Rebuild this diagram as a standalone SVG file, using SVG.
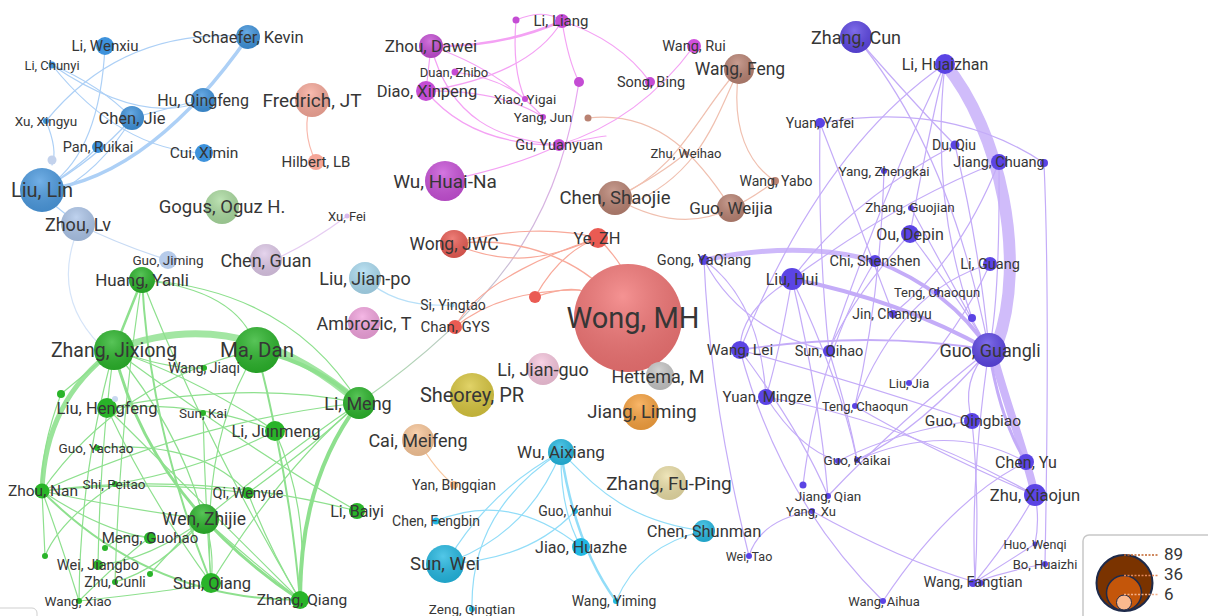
<svg xmlns="http://www.w3.org/2000/svg" width="1208" height="616" viewBox="0 0 1208 616">
<defs>
<radialGradient id="sh" cx="0.45" cy="0.3" r="0.75"><stop offset="0" stop-color="#fff" stop-opacity="0.22"/><stop offset="1" stop-color="#000" stop-opacity="0.12"/></radialGradient>
<linearGradient id="gml" gradientUnits="userSpaceOnUse" x1="579" y1="82" x2="359" y2="403"><stop offset="0" stop-color="#e9a2f2"/><stop offset="0.6" stop-color="#c4c4d0"/><stop offset="1" stop-color="#a6dca6"/></linearGradient>
<style>
.e path{fill:none;stroke-linecap:round;stroke-width:1.2}
.eb path{stroke:#add0f6}
.er path{stroke:#f8a99a}
.em path{stroke:#f4a2f4}
.ebr path{stroke:#f0c0b0}
.eg path{stroke:#8ee08e}
.ec path{stroke:#92ddf8}
.ev path{stroke:#c4acf8}
.s{fill:url(#sh)}
text{font-family:Roboto,"Liberation Sans",sans-serif;fill:#363636;text-anchor:middle;dominant-baseline:central}
.bl{fill:#3d92dc}.mg{fill:#c44cd4}.br{fill:#b98272}.gr{fill:#29b429}.cy{fill:#22b8e2}.vi{fill:#5b44e4}.rd{fill:#ea5b53}
</style>
</defs>
<rect width="1208" height="616" fill="#fff"/>
<g id="connectors" class="e">
<g class="eb">
<path d="M42,190 C120,182 190,120 248,37" style="stroke-width:3.5"/>
<path d="M105,46 Q100,150 50,185"/>
<path d="M46,121 Q120,30 240,36"/>
<path d="M52,65 Q100,85 132,118"/>
<path d="M52,65 Q120,150 204,153"/>
<path d="M52,65 Q140,125 200,102"/>
<path d="M132,118 Q170,108 200,100"/>
<path d="M132,118 Q95,160 42,190"/>
<path d="M132,118 Q100,172 52,195"/>
<path d="M98,147 Q75,170 45,188"/>
<path d="M46,121 Q58,150 52,165"/>
<path d="M78,224 L48,200"/>
<path d="M78,224 Q120,245 168,260" style="stroke:#c8dbf4"/>
<path d="M74,240 Q55,300 100,345" style="stroke:#d5e4f8"/>
</g>
<path d="M312,100 Q300,130 316,162" style="stroke:#f8b8ac"/>
<path d="M347,216 Q315,240 282,256" style="stroke:#e6cdf2"/>
<path d="M365,278 Q395,308 452,305" style="stroke:#b8e0f8"/>
<path d="M418,440 Q435,470 454,485" style="stroke:#f8c8a0"/>
<path d="M579,82 C560,200 520,290 359,403" style="stroke:url(#gml)"/>
<g class="er">
<path d="M454,244 C520,235 580,260 615,300" style="stroke-width:1.5"/>
<path d="M454,244 C520,272 560,252 598,238"/>
<path d="M454,244 C505,228 560,228 598,238"/>
<path d="M598,238 C560,250 480,280 455,327"/>
<path d="M598,238 Q560,252 535,297"/>
<path d="M535,297 Q570,285 585,292"/>
<path d="M455,327 Q500,290 580,290"/>
<path d="M598,238 Q630,270 634,300"/>
</g>
<g class="ebr">
<path d="M739,69 C700,110 680,170 615,198"/>
<path d="M739,69 C715,120 700,175 628,205"/>
<path d="M739,69 C730,130 750,165 775,181"/>
<path d="M775,181 Q750,200 731,208"/>
<path d="M615,198 Q680,235 731,208"/>
<path d="M588,118 C660,110 700,160 731,208"/>
<path d="M615,198 Q660,175 686,153"/>
</g>
<g class="em">
<path d="M431,46 Q500,48 562,21" style="stroke-width:2.5"/>
<path d="M431,46 L426,91"/>
<path d="M426,91 Q530,75 562,21"/>
<path d="M431,46 C450,120 500,140 559,145"/>
<path d="M426,91 Q470,145 559,145"/>
<path d="M431,46 Q500,70 543,117"/>
<path d="M426,91 Q500,90 543,117"/>
<path d="M455,72 Q500,78 525,99"/>
<path d="M516,20 Q545,8 562,21"/>
<path d="M516,20 Q512,70 525,99"/>
<path d="M562,21 Q568,60 579,82"/>
<path d="M562,21 Q620,40 650,82"/>
<path d="M559,145 Q640,120 694,46"/>
<path d="M445,181 Q520,165 559,145"/>
<path d="M559,145 Q590,138 606,136"/>
</g>
<g class="ec">
<path d="M561,452 Q490,490 448,560"/>
<path d="M561,452 Q530,530 455,560"/>
<path d="M561,452 Q560,510 581,547"/>
<path d="M561,452 Q575,545 616,601" style="stroke-width:2.5"/>
<path d="M561,452 C590,480 620,520 704,531"/>
<path d="M436,521 Q510,490 581,547"/>
<path d="M445,564 Q530,560 575,511"/>
<path d="M472,609 Q470,510 561,452"/>
<path d="M704,531 Q640,545 616,601"/>
</g>
<g class="eg">
<path d="M114,350 Q240,300 359,403" style="stroke-width:7;stroke:#a2e6a2"/>
<path d="M257,350 Q320,365 359,403" style="stroke-width:4"/>
<path d="M114,350 Q45,400 42,491" style="stroke-width:5;stroke:#9ae49a"/>
<path d="M359,403 Q300,480 300,600" style="stroke-width:4"/>
<path d="M142,280 L114,350" style="stroke-width:2.5"/>
<path d="M114,350 Q150,500 300,600" style="stroke-width:3"/>
<path d="M142,280 Q290,290 359,403"/>
<path d="M142,280 Q150,430 211,583" style="stroke-width:2"/>
<path d="M142,280 Q200,430 300,600"/>
<path d="M142,280 Q240,290 257,350"/>
<path d="M142,280 Q120,420 115,582"/>
<path d="M114,350 Q250,450 357,511"/>
<path d="M114,350 Q180,430 204,519"/>
<path d="M114,350 Q100,450 98,565"/>
<path d="M114,350 Q80,470 79,601"/>
<path d="M114,350 Q200,380 275,431"/>
<path d="M114,350 Q170,370 204,368"/>
<path d="M114,350 L61,394"/>
<path d="M42,491 Q150,600 300,600" style="stroke-width:2"/>
<path d="M42,491 Q200,470 357,511"/>
<path d="M42,491 Q150,480 248,493"/>
<path d="M42,491 Q130,510 204,519"/>
<path d="M42,491 Q60,540 79,601"/>
<path d="M42,491 L45,556"/>
<path d="M42,491 Q100,530 149,538"/>
<path d="M61,394 Q40,450 42,491"/>
<path d="M107,408 Q150,500 211,583"/>
<path d="M107,408 Q200,500 300,600"/>
<path d="M107,408 Q200,400 275,431"/>
<path d="M107,408 Q250,380 359,403"/>
<path d="M204,519 Q215,550 211,583"/>
<path d="M204,519 Q290,450 359,403"/>
<path d="M204,519 Q250,560 300,600"/>
<path d="M203,413 Q205,500 211,583"/>
<path d="M248,493 Q320,440 359,403"/>
<path d="M248,493 Q270,550 300,600"/>
<path d="M79,601 Q120,560 149,538"/>
<path d="M79,601 Q180,590 211,583"/>
<path d="M115,582 Q160,570 204,519"/>
<path d="M98,565 Q150,560 204,519"/>
<path d="M257,350 Q290,480 300,600" style="stroke-width:2"/>
<path d="M257,350 Q120,380 42,491"/>
<path d="M257,350 Q200,440 211,583"/>
<path d="M150,574 Q180,540 204,519"/>
<path d="M105,548 Q125,530 149,538"/>
<path d="M359,403 Q280,470 211,583"/>
<path d="M275,431 Q310,510 300,600"/>
<path d="M97,448 Q200,440 248,493"/>
<path d="M115,484 Q200,470 275,431"/>
<path d="M42,491 Q200,420 359,403"/>
<path d="M115,484 Q60,520 45,556"/>
</g>
<g class="ev">
<path d="M945,64 C1000,130 1028,260 997,345" style="stroke-width:12;stroke:#d0bcfa"/>
<path d="M992,350 C1008,410 1025,450 1035,495" style="stroke-width:8;stroke:#ccb6fa"/>
<path d="M989,350 Q1000,420 1026,462" style="stroke-width:3"/>
<path d="M704,260 Q800,240 875,261" style="stroke-width:5;stroke:#cdb8fa"/>
<path d="M875,261 Q950,290 989,350" style="stroke-width:4"/>
<path d="M792,279 Q900,300 989,350" style="stroke-width:4"/>
<path d="M856,37 Q950,150 989,350"/>
<path d="M856,37 Q920,110 955,145"/>
<path d="M820,123 Q950,100 1044,163"/>
<path d="M820,123 Q818,250 829,351"/>
<path d="M820,123 Q850,200 893,314"/>
<path d="M945,64 Q820,150 740,350"/>
<path d="M945,64 Q925,150 910,234"/>
<path d="M945,64 Q930,200 972,318"/>
<path d="M945,64 Q880,200 829,351"/>
<path d="M955,145 Q980,250 989,350"/>
<path d="M955,145 Q850,200 792,279"/>
<path d="M999,162 Q900,200 792,279"/>
<path d="M999,162 Q1000,300 989,350"/>
<path d="M1044,163 Q1050,300 1045,564"/>
<path d="M884,171 Q880,300 855,406"/>
<path d="M704,260 Q710,400 749,556"/>
<path d="M704,260 Q760,300 766,397"/>
<path d="M704,260 Q740,330 829,351"/>
<path d="M792,279 Q740,310 740,350"/>
<path d="M792,279 Q780,350 766,397"/>
<path d="M792,279 Q820,400 828,496"/>
<path d="M792,279 Q840,380 857,460"/>
<path d="M740,350 Q870,330 989,350" style="stroke-width:1.8"/>
<path d="M740,350 Q800,430 828,496"/>
<path d="M740,350 Q850,380 972,421"/>
<path d="M740,350 Q780,500 883,601"/>
<path d="M766,397 Q800,450 838,461"/>
<path d="M766,397 Q900,420 1035,495"/>
<path d="M829,351 Q850,420 857,460"/>
<path d="M910,234 Q960,300 989,350"/>
<path d="M910,234 Q850,300 829,351"/>
<path d="M875,261 Q820,350 803,485"/>
<path d="M990,264 Q960,330 909,383"/>
<path d="M990,264 Q900,290 855,406"/>
<path d="M989,350 Q900,420 828,496"/>
<path d="M989,350 Q920,430 857,460"/>
<path d="M989,350 Q970,480 975,582"/>
<path d="M989,350 Q960,380 972,421"/>
<path d="M972,421 Q980,500 975,582"/>
<path d="M812,511 Q760,520 749,556"/>
<path d="M812,511 Q900,560 975,582"/>
<path d="M975,582 Q1010,560 1035,544"/>
<path d="M975,582 Q1010,570 1045,564"/>
<path d="M1035,495 Q1010,540 975,582"/>
<path d="M1035,495 Q1040,520 1035,544"/>
<path d="M857,460 Q950,420 1026,462"/>
<path d="M883,601 Q950,500 1026,462"/>
<path d="M855,406 Q930,450 1035,495"/>
<path d="M838,461 Q900,430 972,421"/>
<path d="M911,208 Q950,280 989,350"/>
<path d="M999,162 Q960,260 893,314"/>
</g>
</g>
<g id="nodes">
<g id="n-liu-lin"><circle cx="42" cy="190" r="22" fill="#4b9ae0"/><circle cx="42" cy="190" r="22" class="s"/><text x="42" y="190" font-size="20">Liu, Lin</text></g>
<g id="n-zhou-lv"><circle cx="78" cy="224" r="17" fill="#adc6ea"/><circle cx="78" cy="224" r="17" class="s"/><text x="78" y="224" font-size="18">Zhou, Lv</text></g>
<g id="n-schaefer"><circle cx="248" cy="37" r="12" class="bl"/><circle cx="248" cy="37" r="12" class="s"/><text x="248" y="37" font-size="16.5">Schaefer, Kevin</text></g>
<g id="n-li-wenxiu"><circle cx="105" cy="46" r="9" class="bl"/><text x="105" y="46" font-size="15">Li, Wenxiu</text></g>
<g id="n-li-chunyi"><circle cx="52" cy="65" r="3.5" class="bl"/><text x="52" y="65" font-size="13">Li, Chunyi</text></g>
<g id="n-hu-qingfeng"><circle cx="203" cy="100" r="12" class="bl"/><circle cx="203" cy="100" r="12" class="s"/><text x="203" y="100" font-size="16">Hu, Qingfeng</text></g>
<g id="n-chen-jie"><circle cx="132" cy="118" r="12" class="bl"/><circle cx="132" cy="118" r="12" class="s"/><text x="132" y="118" font-size="16.5">Chen, Jie</text></g>
<g id="n-xu-xingyu"><circle cx="46" cy="121" r="3" class="bl"/><text x="46" y="121" font-size="13.5">Xu, Xingyu</text></g>
<g id="n-pan-ruikai"><circle cx="98" cy="147" r="6" class="bl"/><text x="98" y="147" font-size="14.5">Pan, Ruikai</text></g>
<g id="n-cui-ximin"><circle cx="204" cy="153" r="9" class="bl"/><text x="204" y="153" font-size="15.5">Cui, Ximin</text></g>
<g id="n-blue-x"><circle cx="52" cy="160" r="4.5" fill="#c3d2ec"/></g>
<g id="n-guo-jiming"><circle cx="168" cy="260" r="9" fill="#b6cbea"/><text x="168" y="260" font-size="13.5">Guo, Jiming</text></g>
<g id="n-fredrich"><circle cx="312" cy="100" r="17" fill="#f7a899"/><circle cx="312" cy="100" r="17" class="s"/><text x="312" y="100" font-size="19">Fredrich, JT</text></g>
<g id="n-hilbert"><circle cx="316" cy="162" r="8" fill="#f5a698"/><text x="316" y="162" font-size="15">Hilbert, LB</text></g>
<g id="n-gogus"><circle cx="222" cy="207" r="17" fill="#aadb9f"/><circle cx="222" cy="207" r="17" class="s"/><text x="222" y="207" font-size="18.5">Gogus, Oguz H.</text></g>
<g id="n-xu-fei"><circle cx="347" cy="216" r="2.5" fill="#d8b8ec"/><text x="347" y="216" font-size="13">Xu, Fei</text></g>
<g id="n-chen-guan"><circle cx="266" cy="260" r="16" fill="#dec8e8"/><circle cx="266" cy="260" r="16" class="s"/><text x="266" y="260" font-size="18">Chen, Guan</text></g>
<g id="n-liu-jianpo"><circle cx="365" cy="278" r="16" fill="#aadbf1"/><circle cx="365" cy="278" r="16" class="s"/><text x="365" y="278" font-size="18">Liu, Jian-po</text></g>
<g id="n-ambrozic"><circle cx="364" cy="323" r="16" fill="#f2a3de"/><circle cx="364" cy="323" r="16" class="s"/><text x="364" y="323" font-size="18">Ambrozic, T</text></g>
<g id="n-si-yingtao"><circle cx="452" cy="305" r="2.5" fill="#a8d9ef"/><text x="453" y="305" font-size="14">Si, Yingtao</text></g>
<g id="n-chan-gys"><circle cx="455" cy="327" r="7" class="rd"/><text x="455" y="327" font-size="15">Chan, GYS</text></g>
<g id="n-wong-mh"><circle cx="628" cy="318" r="54" fill="#f27474"/><circle cx="628" cy="318" r="54" class="s"/><text x="633" y="318" font-size="29">Wong, MH</text></g>
<g id="n-wong-jwc"><circle cx="454" cy="244" r="14" class="rd"/><circle cx="454" cy="244" r="14" class="s"/><text x="454" y="244" font-size="17.5">Wong, JWC</text></g>
<g id="n-ye-zh"><circle cx="598" cy="238" r="10" class="rd"/><text x="597" y="238" font-size="16.5">Ye, ZH</text></g>
<g id="n-red-x"><circle cx="535" cy="297" r="6" class="rd"/></g>
<g id="n-zhou-dawei"><circle cx="431" cy="46" r="12" class="mg"/><circle cx="431" cy="46" r="12" class="s"/><text x="431" y="46" font-size="17">Zhou, Dawei</text></g>
<g id="n-li-liang"><circle cx="562" cy="21" r="7" class="mg"/><text x="561" y="21" font-size="15">Li, Liang</text></g>
<g id="n-mag-x1"><circle cx="516" cy="20" r="3.5" class="mg"/></g>
<g id="n-duan-zhibo"><circle cx="455" cy="72" r="3.5" class="mg"/><text x="454" y="72" font-size="13">Duan, Zhibo</text></g>
<g id="n-diao-xinpeng"><circle cx="426" cy="91" r="10" class="mg"/><text x="427" y="91" font-size="16.5">Diao, Xinpeng</text></g>
<g id="n-xiao-yigai"><circle cx="525" cy="99" r="3" class="mg"/><text x="525" y="99" font-size="13.5">Xiao, Yigai</text></g>
<g id="n-yang-jun"><circle cx="543" cy="117" r="3" class="mg"/><text x="543" y="117" font-size="13.5">Yang, Jun</text></g>
<g id="n-gu-yuanyuan"><circle cx="559" cy="145" r="6" class="mg"/><text x="559" y="145" font-size="14.5">Gu, Yuanyuan</text></g>
<g id="n-mag-x2"><circle cx="579" cy="82" r="5" class="mg"/></g>
<g id="n-wang-rui"><circle cx="694" cy="46" r="7" fill="#d050dc"/><text x="694" y="46" font-size="14.5">Wang, Rui</text></g>
<g id="n-song-bing"><circle cx="650" cy="82" r="5" class="mg"/><text x="651" y="82" font-size="14.5">Song, Bing</text></g>
<g id="n-wu-huaina"><circle cx="445" cy="181" r="20" fill="#c850d8"/><circle cx="445" cy="181" r="20" class="s"/><text x="445" y="181" font-size="19">Wu, Huai-Na</text></g>
<g id="n-wang-feng"><circle cx="739" cy="69" r="15" class="br"/><circle cx="739" cy="69" r="15" class="s"/><text x="740" y="69" font-size="17.5">Wang, Feng</text></g>
<g id="n-chen-shaojie"><circle cx="615" cy="198" r="17" class="br"/><circle cx="615" cy="198" r="17" class="s"/><text x="615" y="198" font-size="18.5">Chen, Shaojie</text></g>
<g id="n-guo-weijia"><circle cx="731" cy="208" r="14" class="br"/><circle cx="731" cy="208" r="14" class="s"/><text x="731" y="208" font-size="17">Guo, Weijia</text></g>
<g id="n-zhu-weihao"><circle cx="686" cy="153" r="2" class="br"/><text x="686" y="153" font-size="13">Zhu, Weihao</text></g>
<g id="n-wang-yabo"><circle cx="775" cy="181" r="4" class="br"/><text x="776" y="181" font-size="14">Wang, Yabo</text></g>
<g id="n-brown-x"><circle cx="588" cy="118" r="3.5" class="br"/></g>
<g id="n-li-jianguo"><circle cx="543" cy="369" r="16" fill="#f7c6de"/><circle cx="543" cy="369" r="16" class="s"/><text x="543" y="369" font-size="18">Li, Jian-guo</text></g>
<g id="n-sheorey"><circle cx="472" cy="395" r="22" fill="#d9c73e"/><circle cx="472" cy="395" r="22" class="s"/><text x="472" y="395" font-size="20">Sheorey, PR</text></g>
<g id="n-hettema"><circle cx="660" cy="376" r="14" fill="#c6c6c6"/><circle cx="660" cy="376" r="14" class="s"/><text x="658" y="376" font-size="18">Hettema, M</text></g>
<g id="n-jiang-liming"><circle cx="641" cy="412" r="18" fill="#f8a23e"/><circle cx="641" cy="412" r="18" class="s"/><text x="642" y="412" font-size="18.5">Jiang, Liming</text></g>
<g id="n-cai-meifeng"><circle cx="418" cy="440" r="16" fill="#f9c698"/><circle cx="418" cy="440" r="16" class="s"/><text x="418" y="440" font-size="18">Cai, Meifeng</text></g>
<g id="n-yan-bingqian"><circle cx="454" cy="485" r="4" fill="#f8bc88"/><text x="454" y="485" font-size="14">Yan, Bingqian</text></g>
<g id="n-zhang-fuping"><circle cx="669" cy="483" r="17" fill="#eadea6"/><circle cx="669" cy="483" r="17" class="s"/><text x="669" y="483" font-size="19">Zhang, Fu-Ping</text></g>
<g id="n-wu-aixiang"><circle cx="561" cy="452" r="13" class="cy"/><circle cx="561" cy="452" r="13" class="s"/><text x="561" y="452" font-size="17">Wu, Aixiang</text></g>
<g id="n-guo-yanhui"><circle cx="575" cy="511" r="3" class="cy"/><text x="575" y="511" font-size="14">Guo, Yanhui</text></g>
<g id="n-chen-fengbin"><circle cx="436" cy="521" r="3.5" class="cy"/><text x="436" y="521" font-size="14">Chen, Fengbin</text></g>
<g id="n-jiao-huazhe"><circle cx="581" cy="547" r="9" class="cy"/><text x="581" y="547" font-size="16">Jiao, Huazhe</text></g>
<g id="n-sun-wei"><circle cx="445" cy="564" r="19" class="cy"/><circle cx="445" cy="564" r="19" class="s"/><text x="445" y="564" font-size="18.5">Sun, Wei</text></g>
<g id="n-zeng-qingtian"><circle cx="472" cy="609" r="3" class="cy"/><text x="472" y="609" font-size="13.5">Zeng, Qingtian</text></g>
<g id="n-wang-yiming"><circle cx="616" cy="601" r="3" class="cy"/><text x="614" y="601" font-size="14">Wang, Yiming</text></g>
<g id="n-chen-shunman"><circle cx="704" cy="531" r="11" class="cy"/><circle cx="704" cy="531" r="11" class="s"/><text x="704" y="531" font-size="16.5">Chen, Shunman</text></g>
<g id="n-huang-yanli"><circle cx="142" cy="280" r="13" class="gr"/><circle cx="142" cy="280" r="13" class="s"/><text x="142" y="280" font-size="17">Huang, Yanli</text></g>
<g id="n-zhang-jixiong"><circle cx="114" cy="350" r="20" class="gr"/><circle cx="114" cy="350" r="20" class="s"/><text x="114" y="350" font-size="19.5">Zhang, Jixiong</text></g>
<g id="n-ma-dan"><circle cx="257" cy="350" r="23" class="gr"/><circle cx="257" cy="350" r="23" class="s"/><text x="257" y="350" font-size="20.5">Ma, Dan</text></g>
<g id="n-wang-jiaqi"><circle cx="204" cy="368" r="3" class="gr"/><text x="204" y="368" font-size="14">Wang, Jiaqi</text></g>
<g id="n-li-meng"><circle cx="359" cy="403" r="16" class="gr"/><circle cx="359" cy="403" r="16" class="s"/><text x="358" y="403" font-size="18">Li, Meng</text></g>
<g id="n-liu-hengfeng"><circle cx="107" cy="408" r="10" class="gr"/><text x="107" y="408" font-size="16.5">Liu, Hengfeng</text></g>
<g id="n-sun-kai"><circle cx="203" cy="413" r="3" class="gr"/><text x="203" y="413" font-size="13.5">Sun, Kai</text></g>
<g id="n-li-junmeng"><circle cx="275" cy="431" r="10" class="gr"/><text x="276" y="431" font-size="16.5">Li, Junmeng</text></g>
<g id="n-guo-yachao"><circle cx="97" cy="448" r="3" class="gr"/><text x="96" y="448" font-size="13.5">Guo, Yachao</text></g>
<g id="n-zhou-nan"><circle cx="42" cy="491" r="7.5" class="gr"/><text x="43" y="491" font-size="15.5">Zhou, Nan</text></g>
<g id="n-shi-peitao"><circle cx="115" cy="484" r="3" class="gr"/><text x="114" y="484" font-size="13.5">Shi, Peitao</text></g>
<g id="n-qi-wenyue"><circle cx="248" cy="493" r="6" class="gr"/><text x="248" y="493" font-size="14.5">Qi, Wenyue</text></g>
<g id="n-wen-zhijie"><circle cx="204" cy="519" r="15" class="gr"/><circle cx="204" cy="519" r="15" class="s"/><text x="204" y="519" font-size="17.5">Wen, Zhijie</text></g>
<g id="n-meng-guohao"><circle cx="150" cy="538" r="6" class="gr"/><text x="150" y="538" font-size="15">Meng, Guohao</text></g>
<g id="n-li-baiyi"><circle cx="357" cy="511" r="8" class="gr"/><text x="357" y="511" font-size="16">Li, Baiyi</text></g>
<g id="n-wei-jiangbo"><circle cx="98" cy="565" r="5" class="gr"/><text x="98" y="565" font-size="14.5">Wei, Jiangbo</text></g>
<g id="n-zhu-cunli"><circle cx="115" cy="582" r="3" class="gr"/><text x="115" y="582" font-size="14">Zhu, Cunli</text></g>
<g id="n-sun-qiang"><circle cx="211" cy="583" r="10" class="gr"/><text x="212" y="583" font-size="16.5">Sun, Qiang</text></g>
<g id="n-wang-xiao"><circle cx="79" cy="601" r="3" class="gr"/><text x="78" y="601" font-size="13.5">Wang, Xiao</text></g>
<g id="n-zhang-qiang"><circle cx="300" cy="600" r="9" class="gr"/><text x="302" y="600" font-size="15.5">Zhang, Qiang</text></g>
<g id="n-green-x"><circle cx="61" cy="394" r="4" class="gr"/><circle cx="45" cy="556" r="3" class="gr"/><circle cx="105" cy="548" r="3" class="gr"/><circle cx="150" cy="574" r="3" class="gr"/><circle cx="115" cy="399" r="3" fill="#c8d8f0"/></g>
<g id="n-zhang-cun"><circle cx="856" cy="37" r="16" class="vi"/><circle cx="856" cy="37" r="16" class="s"/><text x="856" y="37" font-size="18">Zhang, Cun</text></g>
<g id="n-li-huaizhan"><circle cx="945" cy="64" r="10" class="vi"/><text x="945" y="64" font-size="16">Li, Huaizhan</text></g>
<g id="n-yuan-yafei"><circle cx="820" cy="123" r="5" class="vi"/><text x="820" y="123" font-size="14">Yuan, Yafei</text></g>
<g id="n-du-qiu"><circle cx="955" cy="145" r="4.5" class="vi"/><text x="954" y="145" font-size="14">Du, Qiu</text></g>
<g id="n-jiang-chuang"><circle cx="999" cy="162" r="8" class="vi"/><circle cx="1044" cy="163" r="4" class="vi"/><text x="999" y="162" font-size="14.5">Jiang, Chuang</text></g>
<g id="n-yang-zhengkai"><circle cx="884" cy="171" r="3" class="vi"/><text x="884" y="171" font-size="13.5">Yang, Zhengkai</text></g>
<g id="n-zhang-guojian"><circle cx="911" cy="208" r="3" class="vi"/><text x="910" y="207" font-size="13.5">Zhang, Guojian</text></g>
<g id="n-ou-depin"><circle cx="910" cy="234" r="9" class="vi"/><text x="910" y="234" font-size="16">Ou, Depin</text></g>
<g id="n-gong-yaqiang"><circle cx="704" cy="260" r="5" class="vi"/><text x="704" y="260" font-size="14.5">Gong, YaQiang</text></g>
<g id="n-chi-shenshen"><circle cx="875" cy="261" r="6" class="vi"/><text x="875" y="261" font-size="14.5">Chi, Shenshen</text></g>
<g id="n-li-guang"><circle cx="990" cy="264" r="7" class="vi"/><text x="990" y="264" font-size="14.5">Li, Guang</text></g>
<g id="n-liu-hui"><circle cx="792" cy="279" r="11" class="vi"/><text x="792" y="279" font-size="16">Liu, Hui</text></g>
<g id="n-teng-chaoqun-1"><circle cx="937" cy="292" r="3" class="vi"/><text x="937" y="292" font-size="13">Teng, Chaoqun</text></g>
<g id="n-jin-changyu"><circle cx="893" cy="314" r="4" class="vi"/><text x="892" y="314" font-size="14">Jin, Changyu</text></g>
<g id="n-vi-x1"><circle cx="972" cy="318" r="4" class="vi"/></g>
<g id="n-guo-guangli"><circle cx="989" cy="350" r="17" class="vi"/><circle cx="989" cy="350" r="17" class="s"/><text x="990" y="350" font-size="18">Guo, Guangli</text></g>
<g id="n-wang-lei"><circle cx="740" cy="350" r="9" class="vi"/><text x="740" y="350" font-size="15.5">Wang, Lei</text></g>
<g id="n-sun-qihao"><circle cx="829" cy="351" r="6" class="vi"/><text x="829" y="351" font-size="14.5">Sun, Qihao</text></g>
<g id="n-liu-jia"><circle cx="909" cy="383" r="3" class="vi"/><text x="909" y="383" font-size="13">Liu, Jia</text></g>
<g id="n-yuan-mingze"><circle cx="766" cy="397" r="8" class="vi"/><text x="767" y="397" font-size="15">Yuan, Mingze</text></g>
<g id="n-teng-chaoqun-2"><circle cx="855" cy="406" r="3" class="vi"/><text x="865" y="406" font-size="13">Teng, Chaoqun</text></g>
<g id="n-guo-qingbiao"><circle cx="972" cy="421" r="8" class="vi"/><text x="973" y="421" font-size="15.5">Guo, Qingbiao</text></g>
<g id="n-guo-kaikai"><circle cx="838" cy="461" r="3" class="vi"/><circle cx="857" cy="460" r="3" class="vi"/><text x="857" y="460" font-size="13.5">Guo, Kaikai</text></g>
<g id="n-chen-yu"><circle cx="1026" cy="462" r="8" class="vi"/><text x="1026" y="462" font-size="16">Chen, Yu</text></g>
<g id="n-vi-x2"><circle cx="803" cy="485" r="3.5" class="vi"/></g>
<g id="n-jiang-qian"><circle cx="828" cy="496" r="3" class="vi"/><text x="828" y="496" font-size="13.5">Jiang, Qian</text></g>
<g id="n-yang-xu"><circle cx="812" cy="511" r="3" class="vi"/><text x="811" y="511" font-size="13">Yang, Xu</text></g>
<g id="n-zhu-xiaojun"><circle cx="1035" cy="495" r="11" class="vi"/><text x="1035" y="495" font-size="16.5">Zhu, Xiaojun</text></g>
<g id="n-wei-tao"><circle cx="749" cy="556" r="3" class="vi"/><text x="749" y="556" font-size="12.5">Wei, Tao</text></g>
<g id="n-huo-wenqi"><circle cx="1035" cy="544" r="2.5" class="vi"/><text x="1035" y="544" font-size="12.5">Huo, Wenqi</text></g>
<g id="n-bo-huaizhi"><circle cx="1045" cy="564" r="3" class="vi"/><text x="1045" y="564" font-size="13">Bo, Huaizhi</text></g>
<g id="n-wang-fangtian"><circle cx="973" cy="583" r="4" class="vi"/><circle cx="981" cy="583" r="3" class="vi"/><text x="973" y="582" font-size="14.5">Wang, Fangtian</text></g>
<g id="n-wang-aihua"><circle cx="883" cy="601" r="3" class="vi"/><text x="884" y="601" font-size="13">Wang, Aihua</text></g>
</g>
<g id="legend">
<rect x="-30" y="608" width="67" height="30" rx="5" fill="#fff" stroke="#cfcfcf"/>
<rect x="1083" y="535" width="150" height="100" rx="6" fill="#fff" stroke="#c8c8c8" stroke-width="1.5"/>
<circle cx="1124.5" cy="583" r="28" fill="#7a3300" stroke="#1e2a4a" stroke-width="2"/>
<circle cx="1124" cy="593" r="17.5" fill="#c4560a" stroke="#1e2a4a" stroke-width="1.5"/>
<circle cx="1124" cy="602.5" r="7.5" fill="#fbb98e" stroke="#1e2a4a" stroke-width="1"/>
<g stroke-dasharray="2,1.5" stroke-width="1.5">
<path d="M1124,555 H1158" stroke="#c0622a"/>
<path d="M1124,575.5 H1158" stroke="#e0875a"/>
<path d="M1124,594.5 H1158" stroke="#f3b08a"/>
</g>
<text x="1164" y="554" font-size="17" style="text-anchor:start">89</text>
<text x="1164" y="574" font-size="17" style="text-anchor:start">36</text>
<text x="1164" y="594" font-size="17" style="text-anchor:start">6</text>
</g>
</svg>
